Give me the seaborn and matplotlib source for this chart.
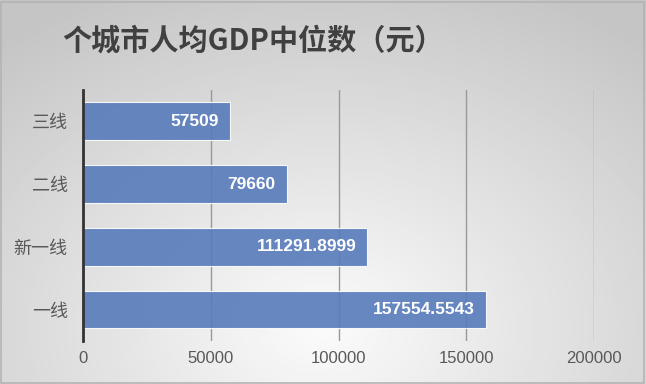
import matplotlib
matplotlib.use('Agg')
import matplotlib.pyplot as plt
from matplotlib.patches import Rectangle
import numpy as np
import seaborn as sns

# data
cities = ['三线', '二线', '新一线', '一线']
gdp = [57509, 79660, 111291.8999, 157554.5543]
gdp_text = ['57509', '79660', '111291.8999', '157554.5543']
xticks = [0, 50000, 100000, 150000, 200000]

sns.set_style('white')
plt.rcParams['font.family'] = ['Liberation Sans', 'Noto Sans CJK SC', 'DejaVu Sans']

fig = plt.figure(figsize=(6.46, 3.84), dpi=100)

# grey radial background
bg = fig.add_axes([0, 0, 1, 1], zorder=-5)
xx, yy = np.meshgrid(np.linspace(0, 1, 323), np.linspace(0, 1, 192))
r = np.sqrt(((xx - 0.5) / 0.8) ** 2 + ((yy - 0.85) / 1.0) ** 2)
shade = np.clip(0.985 - 0.22 * r, 0.77, 0.985)
bg.imshow(shade, cmap='gray', vmin=0, vmax=1, extent=[0, 1, 0, 1],
          origin='upper', aspect='auto', interpolation='bilinear')
bg.set_axis_off()
fig.patches.append(Rectangle((0.002, 0.003), 0.995, 0.993, transform=fig.transFigure,
                             fill=False, edgecolor='#b4b4b4', lw=1.2))

ax = fig.add_axes([0.1285, 0.112, 0.791, 0.654])
ax.set_facecolor('none')
sns.barplot(x=gdp, y=cities, orient='h', color='#4677CB', alpha=0.9,
            width=0.6, edgecolor='white', linewidth=0.8, ax=ax, zorder=3)

for i, (v, t) in enumerate(zip(gdp, gdp_text)):
    ax.annotate(t, (v, i), xytext=(-8, 0), textcoords='offset points',
                ha='right', va='center', color='white', fontsize=12.5,
                fontweight='bold', zorder=5)

ax.set_xlim(0, 200000)
ax.set_xticks(xticks)
ax.set_xticklabels([str(t) for t in xticks])
ax.grid(axis='x', color='#999999', lw=1)
ax.set_axisbelow(True)
for s in ['top', 'right', 'bottom']:
    ax.spines[s].set_visible(False)
ax.spines['left'].set_color('#333333')
ax.spines['left'].set_linewidth(2)
ax.spines['left'].set_zorder(6)
ax.tick_params(axis='x', length=0, pad=7, labelsize=12, labelcolor='#595959')
ax.tick_params(axis='y', length=0, pad=11, labelsize=13, labelcolor='#595959')
for lb in ax.get_yticklabels():
    lb.set_fontfamily(['Noto Sans CJK SC', 'DejaVu Sans'])
ax.set_xlabel('')
ax.set_ylabel('')

fig.text(0.392, 0.895, '个城市人均GDP中位数（元）', ha='center', va='center',
         fontsize=21, fontweight='bold', color='#404040',
         family=['Noto Sans CJK SC', 'DejaVu Sans'])

fig.savefig('out.png', dpi=100)
